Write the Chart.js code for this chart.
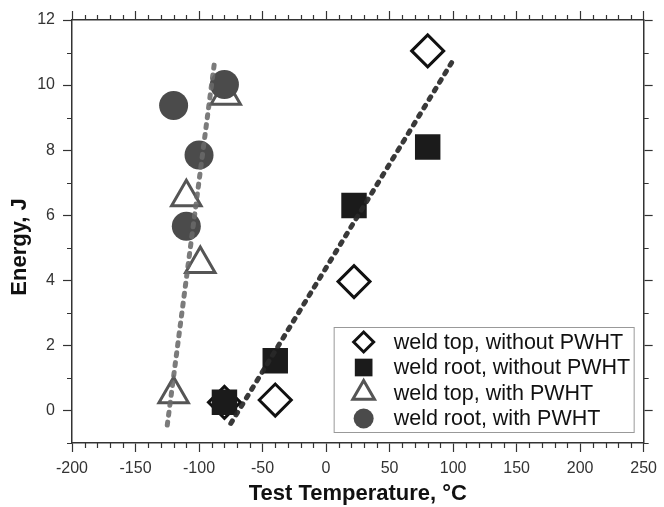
<!DOCTYPE html>
<html>
<head>
<meta charset="utf-8">
<script src="https://cdn.jsdelivr.net/npm/chart.js@4.4.1/dist/chart.umd.min.js"></script>
<style>
  html, body { margin: 0; padding: 0; background: #fff; }
  #wrap { width: 664px; height: 507px; position: relative; }
</style>
</head>
<body>
<div id="wrap"><canvas id="chart"></canvas></div>
<script>
// values
const xTicks = [-200, -150, -100, -50, 0, 50, 100, 150, 200, 250];
const yTicks = [0, 2, 4, 6, 8, 10, 12];

const seriesLabels = [
  'weld top, without PWHT',
  'weld root, without PWHT',
  'weld top, with PWHT',
  'weld root, with PWHT'
];

const topNoPwhtTemp = [-80, -40, 22, 80];
const topNoPwhtEnergy = [0.25, 0.32, 3.96, 11.05];

const rootNoPwhtTemp = [-80, -40, 22, 80];
const rootNoPwhtEnergy = [0.25, 1.53, 6.3, 8.1];

const topPwhtTemp = [-120, -110, -99, -79];
const topPwhtEnergy = [0.5, 6.55, 4.5, 9.67];

const rootPwhtTemp = [-120, -110, -100, -80];
const rootPwhtEnergy = [9.37, 5.66, 7.85, 10.02];

// fitted transition lines
const fitNoPwhtTemp = [-75, 99];
const fitNoPwhtEnergy = [-0.4, 10.7];
const fitPwhtTemp = [-125, -88];
const fitPwhtEnergy = [-0.45, 10.65];

const FONT = "'Liberation Sans', Arial, sans-serif";
const AXIS = '#333';

Chart.defaults.font.family = FONT;

function pts(xs, ys) {
  return xs.map((x, i) => ({ x: x, y: ys[i] }));
}

function fixedTicks(values) {
  return function(scale) {
    scale.ticks = values.map(v => ({ value: v }));
  };
}

// small ticks between the labelled ones, on all four sides
const minorTicks = {
  id: 'minorTicks',
  afterDraw(chart) {
    const { ctx, chartArea: a, scales: s } = chart;
    const len = 5;
    ctx.save();
    ctx.strokeStyle = AXIS;
    ctx.lineWidth = 1.2;
    ctx.beginPath();
    for (let v = s.x.min; v <= s.x.max; v += 10) {
      if (v % 50 === 0) continue;
      const px = Math.round(s.x.getPixelForValue(v)) + 0.5;
      ctx.moveTo(px, a.bottom); ctx.lineTo(px, a.bottom + len);
      ctx.moveTo(px, a.top); ctx.lineTo(px, a.top - len);
    }
    for (let v = s.y.min; v <= s.y.max; v += 1) {
      if (v % 2 === 0) continue;
      const py = Math.round(s.y.getPixelForValue(v)) + 0.5;
      ctx.moveTo(a.left, py); ctx.lineTo(a.left - len, py);
      ctx.moveTo(a.right, py); ctx.lineTo(a.right + len, py);
    }
    ctx.stroke();
    ctx.restore();
  }
};

// boxed legend in the lower right of the plot, plus the y title
const boxLegend = {
  id: 'boxLegend',
  afterDraw(chart) {
    const { ctx, chartArea: a } = chart;
    const w = 300, h = 105;
    const left = a.right - 10 - w;
    const top = a.bottom - 11 - h;
    ctx.save();
    ctx.fillStyle = '#fff';
    ctx.fillRect(left, top, w, h);
    ctx.strokeStyle = '#999';
    ctx.lineWidth = 1;
    ctx.strokeRect(left + 0.5, top + 0.5, w, h);

    const items = chart.data.datasets.filter(d => d.inLegend);
    items.sort((p, q) => seriesLabels.indexOf(p.label) - seriesLabels.indexOf(q.label));
    items.forEach((d, i) => {
      const cy = top + 15 + i * 25.5;
      const cx = left + 30;
      ctx.fillStyle = d.backgroundColor;
      ctx.strokeStyle = d.borderColor;
      ctx.lineWidth = d.borderWidth;
      Chart.helpers.drawPoint(ctx, {
        pointStyle: d.pointStyle,
        radius: d.legendRadius,
        rotation: 0,
        borderWidth: d.borderWidth
      }, cx, cy);
      ctx.fillStyle = '#111';
      ctx.font = '21.5px ' + FONT;
      ctx.textAlign = 'left';
      ctx.textBaseline = 'middle';
      ctx.fillText(d.label, left + 60, cy + 1);
    });

    // y axis title
    ctx.translate(20, 247);
    ctx.rotate(-Math.PI / 2);
    ctx.fillStyle = '#111';
    ctx.font = 'bold 22px ' + FONT;
    ctx.textAlign = 'center';
    ctx.textBaseline = 'middle';
    ctx.fillText('Energy, J', 0, 0);
    ctx.restore();
  }
};

const ctx = document.getElementById('chart').getContext('2d');

new Chart(ctx, {
  type: 'scatter',
  data: {
    datasets: [
      {
        label: 'fit without PWHT',
        data: pts(fitNoPwhtTemp, fitNoPwhtEnergy),
        showLine: true,
        borderColor: 'rgba(40,40,40,0.92)',
        borderWidth: 5,
        borderDash: [3, 7],
        borderCapStyle: 'round',
        pointRadius: 0,
        order: 0
      },
      {
        label: 'fit with PWHT',
        data: pts(fitPwhtTemp, fitPwhtEnergy),
        showLine: true,
        borderColor: 'rgba(105,105,105,0.88)',
        borderWidth: 5,
        borderDash: [3, 7],
        borderCapStyle: 'round',
        pointRadius: 0,
        order: 0
      },
      {
        label: seriesLabels[3],
        data: pts(rootPwhtTemp, rootPwhtEnergy),
        pointStyle: 'circle',
        pointRadius: 14.5,
        backgroundColor: '#4b4b4b',
        borderColor: '#4b4b4b',
        borderWidth: 0,
        legendRadius: 10,
        inLegend: true,
        order: 1
      },
      {
        label: seriesLabels[1],
        data: pts(rootNoPwhtTemp, rootNoPwhtEnergy),
        pointStyle: 'rect',
        pointRadius: 18,
        backgroundColor: '#1b1b1b',
        borderColor: '#1b1b1b',
        borderWidth: 0,
        legendRadius: 12.5,
        inLegend: true,
        order: 2
      },
      {
        label: seriesLabels[2],
        data: pts(topPwhtTemp, topPwhtEnergy),
        pointStyle: 'triangle',
        pointRadius: 17,
        backgroundColor: '#fff',
        borderColor: '#555',
        borderWidth: 3,
        legendRadius: 12.5,
        inLegend: true,
        order: 3
      },
      {
        label: seriesLabels[0],
        data: pts(topNoPwhtTemp, topNoPwhtEnergy),
        pointStyle: 'rectRot',
        pointRadius: 16,
        backgroundColor: '#fff',
        borderColor: '#111',
        borderWidth: 3,
        legendRadius: 10,
        inLegend: true,
        order: 4
      }
    ]
  },
  options: {
    responsive: true,
    maintainAspectRatio: false,
    animation: false,
    layout: { padding: 0 },
    scales: {
      x: {
        type: 'linear',
        position: 'bottom',
        min: -200,
        max: 250,
        afterBuildTicks: fixedTicks(xTicks),
        afterFit: s => { s.height = 64; },
        ticks: { color: AXIS, font: { size: 16 }, padding: 7, maxRotation: 0 },
        grid: { drawOnChartArea: false, tickLength: 9, tickColor: AXIS, tickWidth: 1.2 },
        border: { color: AXIS, width: 1.5 },
        title: {
          display: true,
          text: 'Test Temperature, °C',
          color: '#111',
          font: { size: 22, weight: 'bold' },
          padding: { top: 0, bottom: 0 }
        }
      },
      x2: {
        type: 'linear',
        position: 'top',
        min: -200,
        max: 250,
        afterBuildTicks: fixedTicks(xTicks),
        afterFit: s => { s.height = 17; },
        ticks: { display: false },
        grid: { drawOnChartArea: false, tickLength: 9, tickColor: AXIS, tickWidth: 1.2 },
        border: { color: AXIS, width: 1.5 }
      },
      y: {
        type: 'linear',
        position: 'left',
        min: -1,
        max: 12,
        afterBuildTicks: fixedTicks(yTicks),
        afterFit: s => { s.width = 72; },
        ticks: { color: AXIS, font: { size: 16 }, padding: 8 },
        grid: { drawOnChartArea: false, tickLength: 9, tickColor: AXIS, tickWidth: 1.2 },
        border: { color: AXIS, width: 1.5 }
      },
      y2: {
        type: 'linear',
        position: 'right',
        min: -1,
        max: 12,
        afterBuildTicks: fixedTicks(yTicks),
        afterFit: s => { s.width = 16; },
        ticks: { display: false },
        grid: { drawOnChartArea: false, tickLength: 9, tickColor: AXIS, tickWidth: 1.2 },
        border: { color: AXIS, width: 1.5 }
      }
    },
    plugins: {
      legend: { display: false },
      tooltip: { enabled: false }
    }
  },
  plugins: [minorTicks, boxLegend]
});
</script>
</body>
</html>
